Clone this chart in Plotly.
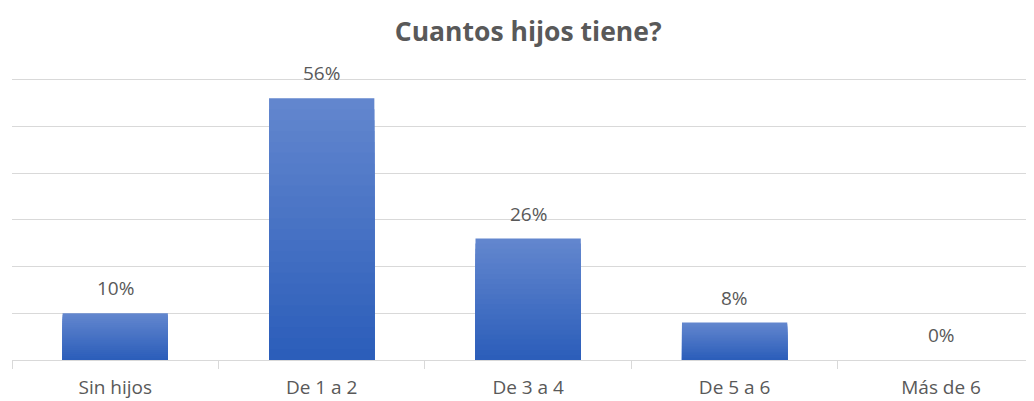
import plotly.graph_objects as go

categories = ["Sin hijos", "De 1 a 2", "De 3 a 4", "De 5 a 6", "Más de 6"]
values = [0.10, 0.56, 0.26, 0.08, 0.00]
labels = ["10%", "56%", "26%", "8%", "0%"]
title = "Cuantos hijos tiene?"

FONT = "'Open Sans', Lato, sans-serif"
GREY = "#595959"

fig = go.Figure()

# gradient bars: overlay of progressively shorter, darker bars
top = (98, 134, 206)
bottom = (44, 94, 186)
N = 24
for k in range(N):
    f = 1 - k / N
    t = k / (N - 1)
    c = tuple(round(top[i] + (bottom[i] - top[i]) * t) for i in range(3))
    fig.add_trace(go.Bar(
        x=categories, y=[v * f for v in values],
        width=0.51, marker=dict(color="rgb(%d,%d,%d)" % c, line=dict(width=0)),
        hoverinfo="skip" if k else "x+y", showlegend=False,
    ))

for cat, v, lab in zip(categories, values, labels):
    fig.add_annotation(x=cat, y=v, text=lab, showarrow=False, yshift=25,
                       font=dict(family=FONT, size=19, color=GREY))

fig.update_layout(
    barmode="overlay",
    width=1026, height=393,
    margin=dict(l=4, r=0, t=67, b=41, autoexpand=False),
    paper_bgcolor="white", plot_bgcolor="white",
    title=dict(text="<b>" + title + "</b>", x=0.507, xref="container", xanchor="center",
               y=0.939, yref="container", yanchor="middle",
               font=dict(family=FONT, size=26.5, color=GREY)),
    xaxis=dict(range=[-0.5, 4.45], showgrid=False, tickson="boundaries", ticks="outside",
               ticklen=8, tickcolor="#d9d9d9", showline=True, linecolor="#d9d9d9", linewidth=1,
               ticklabelstandoff=10, automargin=False,
               tickfont=dict(family=FONT, size=19, color=GREY), fixedrange=True),
    yaxis=dict(range=[0, 0.61], dtick=0.1, showgrid=True, gridcolor="#d9d9d9", gridwidth=1,
               showticklabels=False, zeroline=False, fixedrange=True, automargin=False),
)

fig.write_html("out.html")
